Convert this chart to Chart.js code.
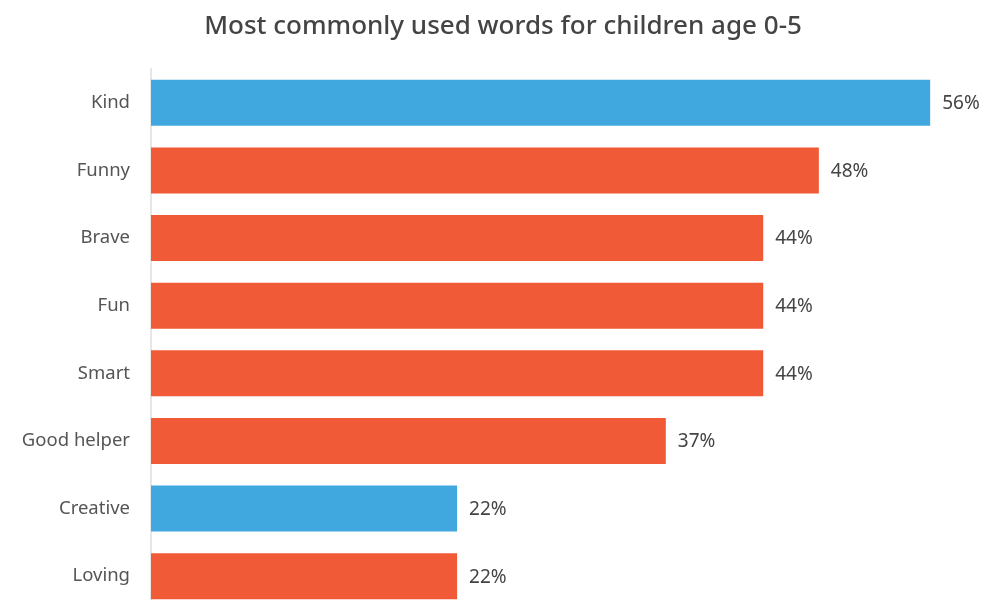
<!DOCTYPE html>
<html>
<head>
<meta charset="utf-8">
<script src="https://cdn.jsdelivr.net/npm/chart.js@4/dist/chart.umd.min.js"></script>
<style>
html,body{margin:0;padding:0;background:#fff;overflow:hidden;}
#wrap{position:relative;width:984px;height:640px;}
</style>
</head>
<body>
<div id="wrap"><canvas id="c"></canvas></div>
<script>
const titleText = "Most commonly used words for children age 0-5";
const categories = ["Kind","Funny","Brave","Fun","Smart","Good helper","Creative","Loving"];
const values = [56,48,44,44,44,37,22,22];
const highlighted = [true,false,false,false,false,false,true,false];
const BLUE = "#40A8DF", ORANGE = "#F05A36";

const labelPlugin = {
  id: "valueLabels",
  afterDatasetsDraw(chart) {
    const ctx = chart.ctx;
    const meta = chart.getDatasetMeta(0);
    ctx.save();
    ctx.font = "19px 'Noto Sans'";
    ctx.fillStyle = "#444";
    ctx.textAlign = "left";
    ctx.textBaseline = "middle";
    meta.data.forEach((bar, i) => {
      ctx.fillText(values[i] + "%", bar.x + 12, bar.y + 1);
    });
    ctx.restore();
  },
  afterDraw(chart) {
    const ctx = chart.ctx;
    ctx.save();
    ctx.font = "500 26px 'Noto Sans'";
    ctx.fillStyle = "#444";
    ctx.textAlign = "center";
    ctx.textBaseline = "middle";
    ctx.fillText(titleText, 503, 27);
    ctx.restore();
  }
};

new Chart(document.getElementById("c"), {
  type: "bar",
  data: {
    labels: categories,
    datasets: [{
      data: values,
      backgroundColor: highlighted.map(h => h ? BLUE : ORANGE),
      barPercentage: 0.68,
      categoryPercentage: 1.0,
      borderWidth: 0
    }]
  },
  options: {
    indexAxis: "y",
    responsive: true,
    maintainAspectRatio: false,
    animation: false,
    layout: { padding: { top: 69, right: 26, bottom: 30, left: 0 } },
    plugins: { legend: { display: false }, tooltip: { enabled: false }, title: { display: false } },
    scales: {
      x: { display: false, min: 0, max: 58 },
      y: {
        grid: { display: true, color: "transparent", drawTicks: true, tickLength: 21, tickColor: "transparent" },
        border: { display: true, color: "#e6e6e6", width: 2 },
        ticks: { color: "#555", font: { family: "'Noto Sans'", size: 18.5 }, padding: 0 },
        afterFit(scale) { scale.width = 151; }
      }
    }
  },
  plugins: [labelPlugin]
});
</script>
</body>
</html>
